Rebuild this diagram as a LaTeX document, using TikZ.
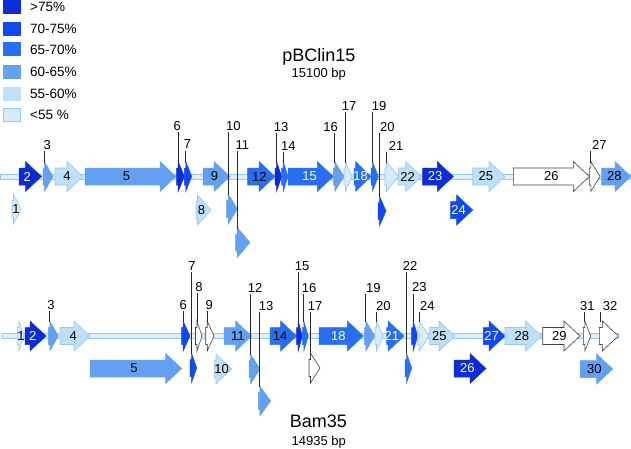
\documentclass[tikz,border=0pt]{standalone}
\usepackage{fontspec}
\setmainfont{Liberation Sans}
\definecolor{c1}{RGB}{10,45,215}
\definecolor{c2}{RGB}{18,72,240}
\definecolor{c3}{RGB}{42,110,240}
\definecolor{c4}{RGB}{100,160,240}
\definecolor{c5}{RGB}{190,224,250}
\definecolor{c6}{RGB}{214,235,252}
\definecolor{edge}{RGB}{150,200,242}
\definecolor{bbfill}{RGB}{225,240,252}
\newcommand\gene[8]{%
  \pgfmathsetmacro\gL{#3-#2}%
  \pgfmathsetmacro\gH{min(16,\gL-1.5)}%
  \pgfmathsetmacro\gB{#3-\gH}%
  \pgfmathsetmacro\gT{(#2+#3)/2+#8}%
  \path[#5] (#2,#4-8.5) -- (\gB,#4-8.5) -- (\gB,#4-15) -- (#3,#4) -- (\gB,#4+15) -- (\gB,#4+8.5) -- (#2,#4+8.5) -- cycle;
  \coordinate (#1) at (#2+1.5,#4-14);
  \node[gtext,text=#7] (#1t) at (\gT,#4) {#6};
}
\newcommand\lab[4]{%
  \node[lbl] (l#1) at (#2,#3) {#4};
  \draw[conn] (l#1.south -| #1) -- (#1);
}
\begin{document}
\begin{tikzpicture}[x=1pt,y=-1pt,
  gtext/.style={font=\fontsize{13}{15}\selectfont,inner sep=0pt},
  lbl/.style={font=\fontsize{13}{15}\selectfont,inner sep=1.5pt},
  legtext/.style={font=\fontsize{13.5}{15}\selectfont,anchor=west,inner sep=0pt},
  g1/.style={fill=c1,draw=c1,line width=0.5pt},
  g2/.style={fill=c2,draw=c2,line width=0.5pt},
  g3/.style={fill=c3,draw=c3,line width=0.5pt},
  g4/.style={fill=c4,draw=c4,line width=0.5pt},
  g5/.style={fill=c5,draw=edge,line width=0.6pt},
  g6/.style={fill=c6,draw=edge,line width=0.6pt},
  gw/.style={fill=white,draw=black!75,line width=0.6pt},
  bb/.style={fill=bbfill,draw=edge,line width=0.8pt},
  conn/.style={draw=black!85,line width=0.8pt},
  legbox/.style={minimum width=17pt,minimum height=13pt,inner sep=0pt,line width=0.6pt}
]
\useasboundingbox (0,0) rectangle (631,448);
% legend
\node[legbox,fill=c1,draw=c1] (k1) at (11.5,6.5) {};
\node[legbox,fill=c2,draw=c2] (k2) at (11.5,28.5) {};
\node[legbox,fill=c3,draw=c3] (k3) at (11.5,49) {};
\node[legbox,fill=c4,draw=c4] (k4) at (11.5,72) {};
\node[legbox,fill=c5,draw=c5] (k5) at (11.5,93.5) {};
\node[legbox,fill=c6,draw=edge] (k6) at (11.5,115) {};
\node[legtext] (t1) at (30,7) {>75\%};
\node[legtext] (t2) at (30,29) {70-75\%};
\node[legtext] (t3) at (30,50) {65-70\%};
\node[legtext] (t4) at (30,72) {60-65\%};
\node[legtext] (t5) at (30,93.5) {55-60\%};
\node[legtext] (t6) at (30,115) {<55 \%};
% titles
\node[font=\fontsize{18}{20}\selectfont,anchor=base,inner sep=0pt] (title1) at (318.8,61) {pBClin15};
\node[font=\fontsize{13}{15}\selectfont,anchor=base,inner sep=0pt] (sub1) at (318.8,77) {15100 bp};
\node[font=\fontsize{18}{20}\selectfont,anchor=base,inner sep=0pt] (title2) at (318.3,427) {Bam35};
\node[font=\fontsize{13}{15}\selectfont,anchor=base,inner sep=0pt] (sub2) at (318.8,445) {14935 bp};
% top backbone
\path[bb] (0,174) rectangle (631,179);
\gene{a1}{12}{21}{209}{g6}{1}{black}{-0.5}
\gene{a2}{19}{41.5}{176.5}{g1}{2}{white}{-3}
\gene{a3}{43}{53}{176.5}{g4}{}{black}{0}
\gene{a4}{55}{83}{176.5}{g5}{4}{black}{-2}
\gene{a5}{85}{176}{176.5}{g4}{5}{black}{-4}
\gene{a6}{176.7}{184.3}{176.5}{g1}{}{black}{0}
\gene{a7}{184.3}{191.7}{176.5}{g2}{}{black}{0}
\gene{a8}{196}{211}{210}{g5}{8}{black}{-2}
\gene{a9}{203}{230}{176.5}{g4}{9}{black}{-2}
\gene{a10}{226.7}{237.5}{209}{g4}{}{black}{0}
\gene{a11}{235.7}{250}{242.5}{g4}{}{black}{0}
\gene{a12}{247.7}{275}{176.5}{g3}{12}{black}{-2}
\gene{a13}{275}{281.7}{176.5}{g1}{}{black}{0}
\gene{a14}{281.7}{288}{176.5}{g3}{}{black}{0}
\gene{a15}{288}{333.3}{176.5}{g3}{15}{white}{-1}
\gene{a16}{333.3}{344}{176.5}{g4}{}{black}{0}
\gene{a17}{344}{352}{176.5}{g6}{}{black}{0}
\gene{a18}{354}{371}{176.5}{g3}{18}{white}{-2}
\gene{a19}{371}{378.3}{176.5}{g3}{}{black}{0}
\gene{a20}{378}{386}{211}{g2}{}{black}{0}
\gene{a21}{385}{398.3}{176.5}{g6}{}{black}{0}
\gene{a22}{398.3}{421.7}{176.5}{g5}{22}{black}{-2.5}
\gene{a23}{422.7}{453.3}{176.5}{g1}{23}{white}{-3}
\gene{a24}{450.7}{472.7}{210}{g2}{24}{white}{-3}
\gene{a25}{472.7}{505}{176.5}{g5}{25}{black}{-3}
\gene{a26}{513.3}{589.3}{176.5}{gw}{26}{black}{0}
\gene{a27}{589.3}{600}{176.5}{gw}{}{black}{0}
\gene{a28}{601.7}{631}{176.5}{g4}{28}{black}{-2}
\lab{a3}{47.3}{145}{3}
\lab{a6}{177.3}{126}{6}
\lab{a7}{187.5}{144.5}{7}
\lab{a10}{233.3}{126}{10}
\lab{a11}{242.3}{145}{11}
\lab{a13}{281}{126.7}{13}
\lab{a14}{288.3}{145.7}{14}
\lab{a16}{330.7}{126.7}{16}
\lab{a17}{349}{105.7}{17}
\lab{a19}{379}{105.7}{19}
\lab{a20}{387.3}{126.7}{20}
\lab{a21}{396}{145.7}{21}
\lab{a27}{599.3}{145}{27}
% bottom backbone
\path[bb] (2,333.5) rectangle (618,338.5);
\gene{b1}{17.3}{24}{336}{g6}{1}{black}{0.3}
\gene{b2}{25}{46}{336}{g1}{2}{white}{-2.8}
\gene{b3}{48.3}{58.3}{336}{g4}{}{black}{0}
\gene{b4}{60}{90}{336}{g5}{4}{black}{-1.7}
\gene{b5}{90}{181.7}{368.5}{g4}{5}{black}{-1.8}
\gene{b6}{181.7}{190}{336}{g2}{}{black}{0}
\gene{b7}{190}{196.7}{368}{g2}{}{black}{0}
\gene{b8}{195.5}{202}{336}{gw}{}{black}{0}
\gene{b9}{205.7}{214}{336}{gw}{}{black}{0}
\gene{b10}{214.3}{231.7}{369}{g5}{10}{black}{-1.3}
\gene{b11}{224}{251.7}{336}{g4}{11}{black}{0}
\gene{b12}{249}{260}{369}{g4}{}{black}{0}
\gene{b13}{258.3}{270.7}{401}{g4}{}{black}{0}
\gene{b14}{270}{296.7}{336}{g3}{14}{black}{-3.3}
\gene{b15}{296.7}{302.3}{336}{g1}{}{black}{0}
\gene{b16}{302.3}{308.3}{336}{g3}{}{black}{0}
\gene{b17}{309}{320}{368}{gw}{}{black}{0}
\gene{b18}{319}{363.3}{336}{g3}{18}{white}{-2.8}
\gene{b19}{364.3}{375}{336}{g4}{}{black}{0}
\gene{b20}{375}{383.3}{336}{g6}{}{black}{0}
\gene{b21}{386.7}{404}{336}{g3}{21}{white}{-3.6}
\gene{b22}{405}{411.7}{368}{g3}{}{black}{0}
\gene{b23}{411.7}{417.7}{336}{g2}{}{black}{0}
\gene{b24}{417.7}{429.3}{336}{g6}{}{black}{0}
\gene{b25}{429.3}{455}{336}{g5}{25}{black}{-2.8}
\gene{b26}{454}{486}{368.5}{g1}{26}{white}{-2.7}
\gene{b27}{483.3}{505}{336}{g2}{27}{white}{-2.5}
\gene{b28}{505}{541.7}{336}{g5}{28}{black}{-1.6}
\gene{b29}{542.7}{580}{336}{gw}{29}{black}{-2}
\gene{b30}{580}{612.7}{369}{g4}{30}{black}{-2}
\gene{b31}{583.3}{590.7}{336}{gw}{}{black}{0}
\gene{b32}{599.3}{618.3}{336}{gw}{}{black}{0}
\lab{b3}{51}{305}{3}
\lab{b6}{183.3}{305}{6}
\lab{b7}{192}{266}{7}
\lab{b8}{199}{286.7}{8}
\lab{b9}{209.3}{305}{9}
\lab{b12}{255}{287.7}{12}
\lab{b13}{266}{305.7}{13}
\lab{b15}{302}{266}{15}
\lab{b16}{309}{287.7}{16}
\lab{b17}{315}{305.7}{17}
\lab{b19}{373.3}{287.7}{19}
\lab{b20}{383.3}{305.7}{20}
\lab{b22}{410}{266}{22}
\lab{b23}{419.3}{287.3}{23}
\lab{b24}{427.3}{305.7}{24}
\lab{b31}{587.3}{305.7}{31}
\lab{b32}{610}{305.7}{32}
\end{tikzpicture}
\end{document}
